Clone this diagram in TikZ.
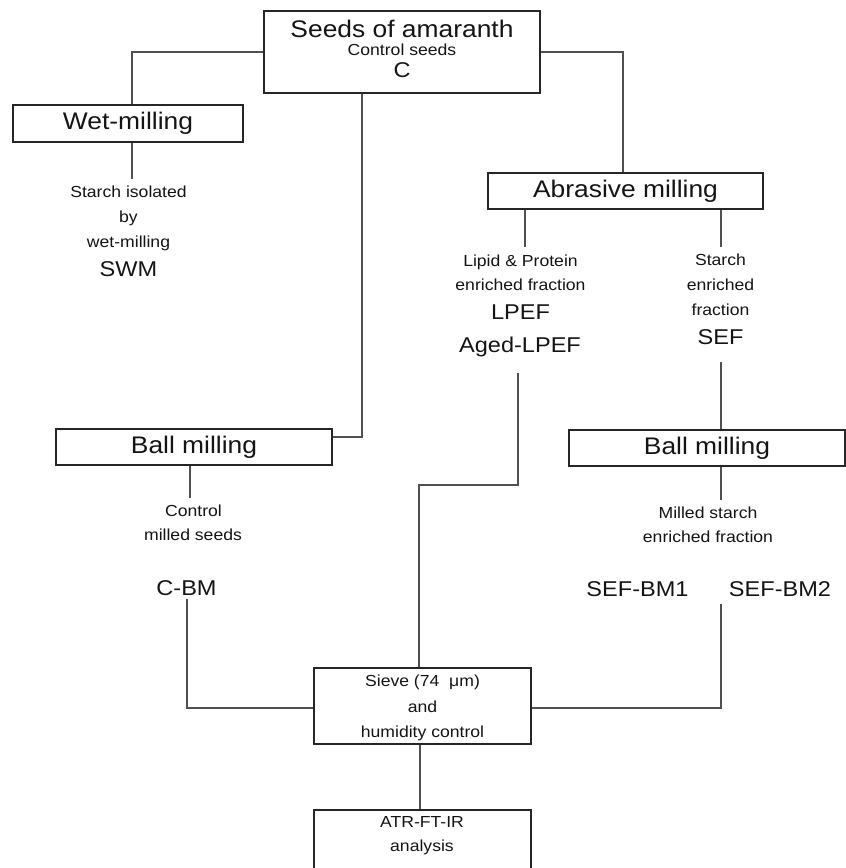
\documentclass[tikz,border=0pt]{standalone}
\usepackage{fontspec}
\setmainfont[FakeStretch=1.1]{Liberation Sans}
\definecolor{boxc}{HTML}{262626}
\definecolor{linec}{HTML}{505050}
\definecolor{txtc}{HTML}{141414}
\begin{document}
\begin{tikzpicture}[x=1pt,y=-1pt,
  box/.style={draw=boxc, line width=1.2pt, inner sep=0pt, text=txtc},
  conn/.style={draw=linec, line width=1.2pt},
  big/.style={font=\fontsize{24}{28}\selectfont},
  med/.style={font=\fontsize{21.4}{25}\selectfont},
  sml/.style={font=\fontsize{16}{19}\selectfont},
  lbl/.style={anchor=base, inner sep=0pt, text=txtc}]
\useasboundingbox (0,0) rectangle (846,868);
\clip (0,0) rectangle (846,868);

% boxes
\node[box, minimum width=276pt, minimum height=82pt] (seeds) at (402,52) {};
\node[box, big, minimum width=230pt, minimum height=37pt] (wet) at (128,123.5) {Wet-milling};
\node[box, big, minimum width=275pt, minimum height=36pt] (abr) at (625.5,191) {Abrasive milling};
\node[box, big, minimum width=276pt, minimum height=36pt] (ballL) at (194,447) {Ball milling};
\node[box, big, minimum width=276pt, minimum height=36pt] (ballR) at (707,448) {Ball milling};
\node[box, minimum width=217pt, minimum height=76pt] (sieve) at (422.5,706) {};
\node[box, minimum width=217pt, minimum height=80pt] (atr) at (422.5,850) {};

% texts in seeds box
\node[lbl, big] (s1) at (402,37) {Seeds of amaranth};
\node[lbl, sml] (s2) at (402,55) {Control seeds};
\node[lbl, med] (s3) at (402,77) {C};

% wet-milling branch
\node[lbl, sml] (w1) at (128.5,197.5) {Starch isolated};
\node[lbl, sml] (w2) at (128.5,222.5) {by};
\node[lbl, sml] (w3) at (128.5,247.5) {wet-milling};
\node[lbl, med] (w4) at (128.5,276) {SWM};

% abrasive branch, left
\node[lbl, sml] (l1) at (520.5,266) {Lipid \& Protein};
\node[lbl, sml] (l2) at (520.5,290.5) {enriched fraction};
\node[lbl, med] (l3) at (520.5,319.5) {LPEF};
\node[lbl, med] (l4) at (520,352.5) {Aged-LPEF};

% abrasive branch, right
\node[lbl, sml] (r1) at (720.5,265.5) {Starch};
\node[lbl, sml] (r2) at (720.5,290) {enriched};
\node[lbl, sml] (r3) at (720.5,315) {fraction};
\node[lbl, med] (r4) at (720.5,344) {SEF};

% left ball milling
\node[lbl, sml] (c1) at (193.5,516) {Control};
\node[lbl, sml] (c2) at (193,540.5) {milled seeds};
\node[lbl, med] (c3) at (186.5,595) {C-BM};

% right ball milling
\node[lbl, sml] (m1) at (708,518.5) {Milled starch};
\node[lbl, sml] (m2) at (708,542.5) {enriched fraction};
\node[lbl, med] (m3) at (637.5,596.5) {SEF-BM1};
\node[lbl, med] (m4) at (780,596.5) {SEF-BM2};

% sieve and ATR texts
\node[lbl, sml] (v1) at (422.5,686.5) {Sieve (74 \ μm)};
\node[lbl, sml] (v2) at (422.5,712) {and};
\node[lbl, sml] (v3) at (422.5,737) {humidity control};
\node[lbl, sml] (a1) at (422,827.5) {ATR-FT-IR};
\node[lbl, sml] (a2) at (422,851.5) {analysis};

% coordinates for connector ends
\coordinate (xW) at (132,179);
\coordinate (xA) at (623,0);
\coordinate (xS) at (362,437);
\coordinate (lpT) at (525,247);
\coordinate (sfT) at (721,247);
\coordinate (lpB) at (518,373);
\coordinate (jm) at (419,485);
\coordinate (sfB) at (721,362);
\coordinate (bRe) at (721,500);
\coordinate (bm2) at (721,604);
\coordinate (yR) at (0,708);
\coordinate (bLe) at (190,498);
\coordinate (cbm) at (187,599);
\coordinate (xT) at (420,0);

% connectors
\draw[conn] (seeds.west) -| (wet.north -| xW);
\draw[conn] (wet.south -| xW) -- (xW);
\draw[conn] (seeds.east) -| (abr.north -| xA);
\draw[conn] (seeds.south -| xS) |- (ballL.east |- xS);
\draw[conn] (abr.south -| lpT) -- (lpT);
\draw[conn] (abr.south -| sfT) -- (sfT);
\draw[conn] (lpB) |- (jm) -- (sieve.north -| jm);
\draw[conn] (sfB) -- (ballR.north -| sfB);
\draw[conn] (ballR.south -| bRe) -- (bRe);
\draw[conn] (bm2) |- (sieve.east |- yR);
\draw[conn] (ballL.south -| bLe) -- (bLe);
\draw[conn] (cbm) |- (sieve.west |- yR);
\draw[conn] (sieve.south -| xT) -- (atr.north -| xT);
\end{tikzpicture}
\end{document}
